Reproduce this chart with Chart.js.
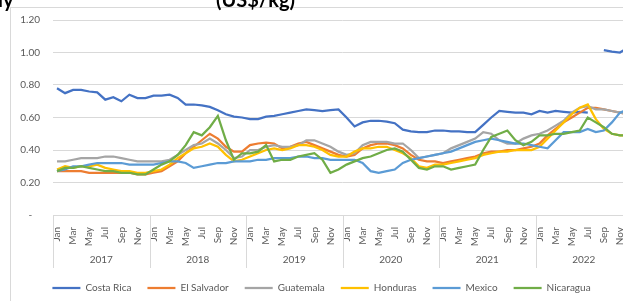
<!DOCTYPE html>
<html>
<head>
<meta charset="utf-8">
<script src="https://cdn.jsdelivr.net/npm/chart.js@4.4.1/dist/chart.umd.min.js"></script>
<style>
  html, body { margin: 0; padding: 0; background: #fff; overflow: hidden; }
  body { width: 623px; height: 301px; position: relative; }
  .title { position: absolute; top: -11px; font: bold 20px Lato, sans-serif; line-height: 20px; white-space: nowrap; color: #000; }
  #box { position: absolute; left: 10px; top: 7px; border: 1px solid #d9d9d9; border-right: none; background: #fff; }
  canvas { display: block; }
</style>
</head>
<body>
<div id="box"><canvas id="chart" width="650" height="295"></canvas></div>
<div class="title" style="left:-62px">Monthly</div>
<div class="title" style="left:216px">(US$/kg)</div>
<script>
const years = ['2017', '2018', '2019', '2020', '2021', '2022'];
const months = ['Jan', 'Feb', 'Mar', 'Apr', 'May', 'Jun', 'Jul', 'Aug', 'Sep', 'Oct', 'Nov', 'Dec'];
const yTicks = [0, 0.2, 0.4, 0.6, 0.8, 1.0, 1.2];

const costaRica = [
  0.78, 0.75, 0.77, 0.77, 0.76, 0.755, 0.71, 0.725, 0.70, 0.74, 0.72, 0.72,
  0.735, 0.735, 0.74, 0.72, 0.68, 0.68, 0.675, 0.665, 0.645, 0.62, 0.605, 0.60,
  0.59, 0.59, 0.605, 0.61, 0.62, 0.63, 0.64, 0.65, 0.645, 0.64, 0.645, 0.65,
  0.60, 0.545, 0.57, 0.58, 0.58, 0.575, 0.565, 0.525, 0.515, 0.51, 0.51, 0.52,
  0.52, 0.515, 0.515, 0.51, 0.51, 0.555, 0.60, 0.64, 0.635, 0.63, 0.63, 0.62,
  0.64, 0.63, 0.64, 0.635, 0.63, 0.635, 0.63, null, 1.015, 1.005, 1.0, 1.03
];
const elSalvador = [
  0.27, 0.27, 0.27, 0.27, 0.26, 0.26, 0.26, 0.26, 0.26, 0.26, 0.25, 0.25,
  0.26, 0.27, 0.30, 0.33, 0.38, 0.42, 0.46, 0.50, 0.47, 0.42, 0.39, 0.39,
  0.43, 0.44, 0.445, 0.44, 0.41, 0.42, 0.44, 0.45, 0.43, 0.41, 0.39, 0.37,
  0.36, 0.37, 0.41, 0.43, 0.44, 0.44, 0.43, 0.41, 0.37, 0.34, 0.33, 0.33,
  0.32, 0.33, 0.34, 0.35, 0.36, 0.38, 0.39, 0.39, 0.40, 0.40, 0.41, 0.42,
  0.44, 0.49, 0.53, 0.57, 0.60, 0.63, 0.66, 0.66, 0.65, 0.64, 0.63, 0.62
];
const guatemala = [
  0.33, 0.33, 0.34, 0.35, 0.35, 0.35, 0.36, 0.36, 0.35, 0.34, 0.33, 0.33,
  0.33, 0.33, 0.34, 0.37, 0.40, 0.43, 0.44, 0.47, 0.44, 0.40, 0.35, 0.36,
  0.40, 0.40, 0.42, 0.43, 0.42, 0.42, 0.43, 0.46, 0.46, 0.44, 0.42, 0.39,
  0.37, 0.38, 0.43, 0.45, 0.45, 0.45, 0.44, 0.44, 0.40, 0.35, 0.36, 0.37,
  0.38, 0.41, 0.43, 0.45, 0.47, 0.51, 0.50, 0.46, 0.44, 0.44, 0.47, 0.49,
  0.50, 0.52, 0.55, 0.58, 0.63, 0.66, 0.67, 0.65, 0.65, 0.64, 0.63, 0.62
];
const honduras = [
  0.28, 0.30, 0.29, 0.30, 0.30, 0.31, 0.29, 0.28, 0.27, 0.27, 0.26, 0.26,
  0.27, 0.28, 0.31, 0.35, 0.38, 0.41, 0.42, 0.44, 0.42, 0.37, 0.33, 0.34,
  0.36, 0.38, 0.40, 0.41, 0.40, 0.41, 0.43, 0.43, 0.42, 0.40, 0.37, 0.36,
  0.36, 0.39, 0.41, 0.41, 0.42, 0.42, 0.40, 0.38, 0.35, 0.30, 0.29, 0.31,
  0.31, 0.32, 0.33, 0.34, 0.35, 0.37, 0.38, 0.39, 0.39, 0.40, 0.40, 0.40,
  0.42, 0.47, 0.52, 0.57, 0.62, 0.66, 0.68, 0.59, 0.53, 0.50, 0.49, 0.49
];
const mexico = [
  0.27, 0.28, 0.30, 0.30, 0.31, 0.32, 0.32, 0.32, 0.32, 0.31, 0.31, 0.31,
  0.31, 0.32, 0.33, 0.33, 0.32, 0.29, 0.30, 0.31, 0.32, 0.32, 0.33, 0.33,
  0.33, 0.34, 0.34, 0.35, 0.35, 0.35, 0.36, 0.36, 0.35, 0.35, 0.34, 0.34,
  0.34, 0.34, 0.32, 0.27, 0.26, 0.27, 0.28, 0.32, 0.34, 0.35, 0.36, 0.37,
  0.38, 0.39, 0.41, 0.43, 0.45, 0.46, 0.47, 0.46, 0.45, 0.44, 0.44, 0.43,
  0.42, 0.41, 0.46, 0.51, 0.51, 0.51, 0.53, 0.51, 0.52, 0.57, 0.63, 0.65
];
const nicaragua = [
  0.27, 0.29, 0.29, 0.30, 0.29, 0.28, 0.27, 0.27, 0.26, 0.26, 0.25, 0.25,
  0.28, 0.31, 0.33, 0.37, 0.43, 0.51, 0.49, 0.54, 0.61, 0.46, 0.34, 0.38,
  0.38, 0.39, 0.43, 0.33, 0.34, 0.34, 0.36, 0.37, 0.38, 0.34, 0.26, 0.28,
  0.31, 0.33, 0.35, 0.36, 0.38, 0.40, 0.41, 0.39, 0.34, 0.29, 0.28, 0.30,
  0.30, 0.28, 0.29, 0.30, 0.31, 0.40, 0.48, 0.50, 0.52, 0.46, 0.43, 0.45,
  0.49, 0.49, 0.50, 0.50, 0.51, 0.52, 0.60, 0.57, 0.54, 0.50, 0.49, 0.49
];

const labels = years.flatMap(y => months.map(m => m + ' ' + y));
const font = 'Lato, "Open Sans", sans-serif';
const grey = '#595959';

const series = [
  ['Costa Rica', costaRica, '#4472C4'],
  ['El Salvador', elSalvador, '#ED7D31'],
  ['Guatemala', guatemala, '#A5A5A5'],
  ['Honduras', honduras, '#FFC000'],
  ['Mexico', mexico, '#5B9BD5'],
  ['Nicaragua', nicaragua, '#70AD47']
];

// year row + separators under the month labels (like Excel's multi-level axis)
const yearAxis = {
  id: 'yearAxis',
  afterDraw(chart) {
    const x = chart.scales.x;
    const ctx = chart.ctx;
    const top = x.top;
    ctx.save();
    ctx.strokeStyle = '#d9d9d9';
    ctx.lineWidth = 1;
    for (let k = 0; k <= years.length; k++) {
      let bx;
      if (k === 0) bx = x.left;
      else if (k === years.length) bx = x.right;
      else bx = (x.getPixelForValue(12 * k - 1) + x.getPixelForValue(12 * k)) / 2;
      bx = Math.round(bx) + 0.5;
      ctx.beginPath();
      ctx.moveTo(bx, top);
      ctx.lineTo(bx, top + 53);
      ctx.stroke();
    }
    ctx.fillStyle = grey;
    ctx.font = '10px ' + font;
    ctx.textAlign = 'center';
    ctx.textBaseline = 'middle';
    years.forEach((y, k) => {
      const cx = (x.getPixelForValue(12 * k) + x.getPixelForValue(12 * k + 11)) / 2;
      ctx.fillText(y, cx, top + 45);
    });
    ctx.restore();
  }
};

new Chart(document.getElementById('chart'), {
  type: 'line',
  data: {
    labels: labels,
    datasets: series.map((s, i) => ({
      label: s[0],
      data: s[1],
      borderColor: s[2],
      backgroundColor: s[2],
      borderWidth: 2.25,
      pointRadius: 0,
      tension: 0,
      order: series.length - i
    }))
  },
  options: {
    responsive: false,
    animation: false,
    devicePixelRatio: 1,
    layout: { padding: { top: 12, right: 29, left: 0, bottom: 0 } },
    plugins: {
      tooltip: { enabled: false },
      legend: {
        position: 'bottom',
        labels: {
          usePointStyle: true,
          pointStyle: 'line',
          pointStyleWidth: 28,
          padding: 16,
          color: grey,
          font: { family: font, size: 10 },
          sort: (a, b) => a.datasetIndex - b.datasetIndex
        }
      }
    },
    scales: {
      x: {
        offset: true,
        grid: { display: false },
        border: { color: '#d9d9d9' },
        afterFit(s) { s.height = 52; },
        ticks: {
          autoSkip: false,
          minRotation: 90,
          maxRotation: 90,
          padding: 4,
          color: grey,
          font: { family: font, size: 10 },
          callback: (v, i) => (i % 2 === 0 ? months[i % 12] : '')
        }
      },
      y: {
        min: yTicks[0],
        max: yTicks[yTicks.length - 1],
        afterFit(s) { s.width = 42; s.paddingTop = 0; s.paddingBottom = 0; },
        afterBuildTicks(s) { s.ticks = yTicks.map(v => ({ value: v })); },
        grid: { color: '#d9d9d9', drawTicks: false },
        border: { display: false },
        ticks: {
          padding: 13,
          color: grey,
          font: { family: font, size: 10 },
          callback: v => (v === 0 ? '-   ' : v.toFixed(2))
        }
      }
    }
  },
  plugins: [yearAxis]
});
</script>
</body>
</html>
